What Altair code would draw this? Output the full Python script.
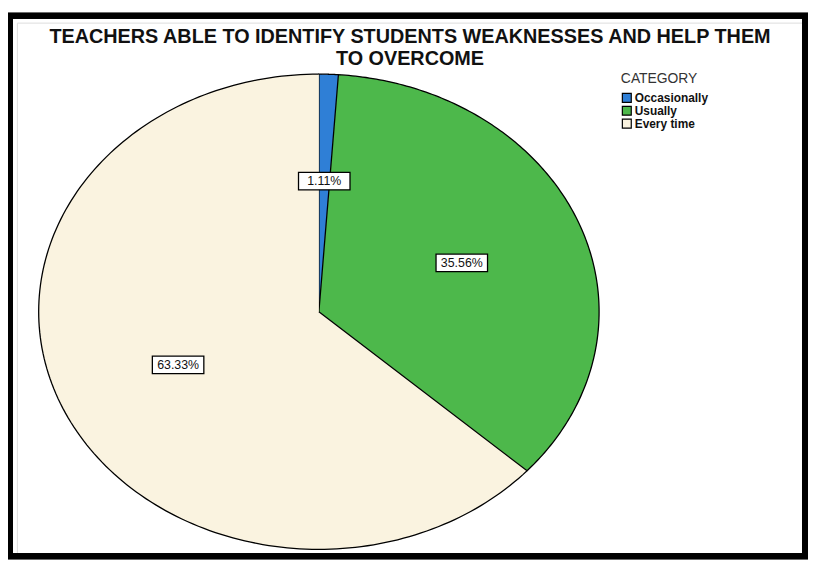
import altair as alt
import pandas as pd

categories = ["Occasionally", "Usually", "Every time"]
percents = [1.11, 35.56, 63.33]
order = [0, 1, 2]
colors = ["#2f7fd6", "#4db84b", "#faf3e0"]

title_lines = ["TEACHERS ABLE TO IDENTIFY STUDENTS WEAKNESSES AND HELP THEM", "TO OVERCOME"]

df = pd.DataFrame({"category": categories, "value": percents, "idx": order})

W, H = 794, 536
N = 180

xscale = alt.Scale(domain=[-1.0777, 1.7279], nice=False, zero=False)
yscale = alt.Scale(domain=[-1.0167, 1.2167], nice=False, zero=False)

base = (
    alt.Chart(df)
    .transform_window(cum="sum(value)", sort=[alt.SortField("idx")])
    .transform_calculate(start="datum.cum - datum.value")
)

slices = (
    base.transform_calculate(pts=f"sequence(-1, {N + 1})")
    .transform_flatten(["pts"], as_=["k"])
    .transform_calculate(t=f"2*PI*(datum.start + datum.value*max(datum.k,0)/{N})/100")
    .transform_calculate(
        px="datum.k < 0 ? 0 : sin(datum.t)",
        py="datum.k < 0 ? 0 : cos(datum.t)",
    )
    .mark_line(stroke="black", strokeWidth=1.3, interpolate="linear")
    .encode(
        x=alt.X("px:Q", scale=xscale, axis=None),
        y=alt.Y("py:Q", scale=yscale, axis=None),
        order=alt.Order("k:Q"),
        detail="category:N",
        fill=alt.Fill(
            "category:N",
            scale=alt.Scale(domain=categories, range=colors),
            sort=categories,
            legend=alt.Legend(
                title="CATEGORY",
                orient="none",
                legendX=610,
                legendY=50,
                symbolType="square",
                symbolSize=81,
                symbolStrokeColor="black",
                symbolStrokeWidth=1.2,
                titleFont="Liberation Sans",
                titleFontSize=14,
                titleFontWeight="normal",
                titleColor="#333333",
                labelFont="Liberation Sans",
                labelFontSize=12,
                labelFontWeight="bold",
                labelColor="#111111",
                rowPadding=-3,
                labelOffset=2,
                titlePadding=6,
            ),
        ),
    )
)

labels_base = base.transform_calculate(
    mid="2*PI*(datum.start + datum.value/2)/100",
).transform_calculate(
    lx="0.55*sin(datum.mid)",
    ly="0.55*cos(datum.mid)",
    label="format(datum.value, '.2f') + '%'",
)

boxes = labels_base.mark_point(
    shape="M-1,-0.34H1V0.34H-1Z", size=2704, filled=True, fill="white",
    stroke="black", strokeWidth=1.3, opacity=1,
).encode(
    x=alt.X("lx:Q", scale=xscale, axis=None),
    y=alt.Y("ly:Q", scale=yscale, axis=None),
)

texts = labels_base.mark_text(
    font="Liberation Sans", fontSize=12.5, color="#111111", align="center", baseline="middle",
).encode(
    x=alt.X("lx:Q", scale=xscale, axis=None),
    y=alt.Y("ly:Q", scale=yscale, axis=None),
    text="label:N",
)

frame = alt.Chart(df).mark_rect(fill=None, stroke="black", strokeWidth=6).encode(
    x=alt.value(-7), x2=alt.value(W + 2), y=alt.value(-7), y2=alt.value(H + 3),
)

chart = (
    alt.layer(frame, slices, boxes, texts)
    .properties(
        width=W,
        height=H,
        autosize=alt.AutoSizeParams(type="none"),
        padding={"left": 9, "top": 12, "right": 5, "bottom": 5},
        title=alt.TitleParams(
            text=title_lines,
            font="Liberation Sans",
            fontSize=20,
            fontWeight="bold",
            color="#111111",
            anchor="middle",
            offset=-57,
            lineHeight=22,
        ),
    )
    .configure_view(stroke="black", strokeWidth=1)
    .configure(background="white")
)

chart.save("out.html", embed_options={"renderer": "svg", "actions": False})
